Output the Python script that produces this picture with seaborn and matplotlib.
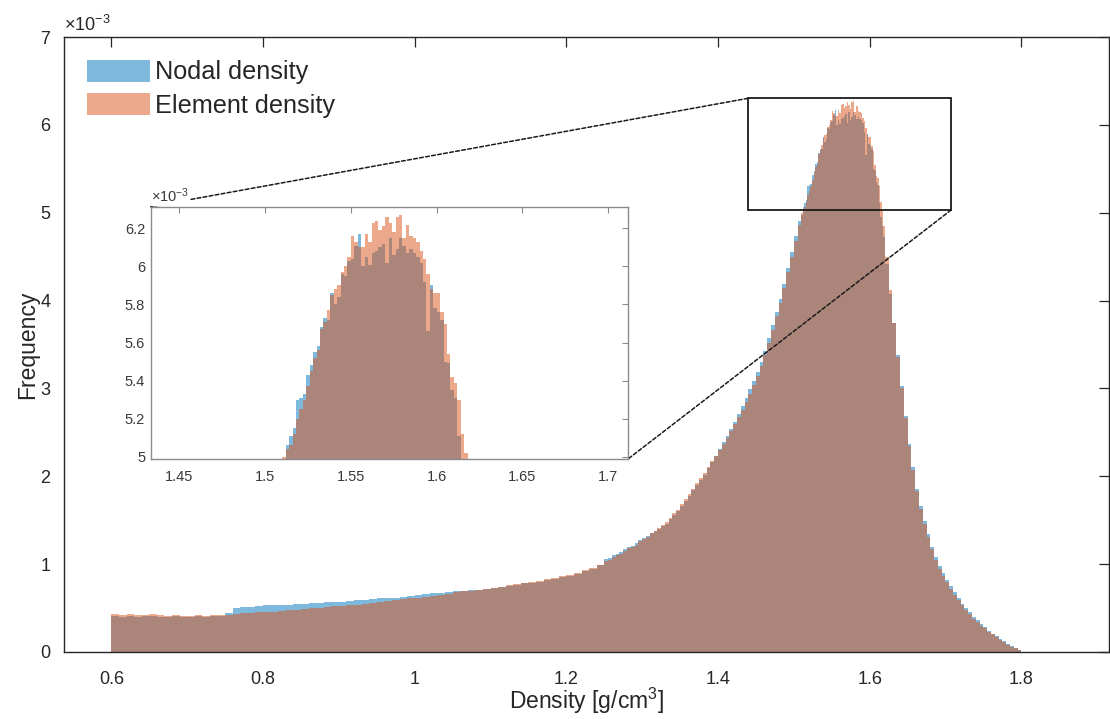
import numpy as np
import pandas as pd
import matplotlib
matplotlib.use("Agg")
import matplotlib.pyplot as plt
import seaborn as sns
from matplotlib.patches import Rectangle, Patch, ConnectionPatch

# ---------------- data (frequency values in units of 1e-3) ----------------
# bin edges: coarse in the flat tail, finer towards the peak
edges_a = np.linspace(0.60, 1.25, 66)   # 65 bins, width 0.01
edges_b = np.linspace(1.25, 1.51, 53)   # 52 bins, width 0.005
edges_c = np.linspace(1.51, 1.62, 56)   # 55 bins, width 0.002
edges_d = np.linspace(1.62, 1.80, 37)   # 36 bins, width 0.005

element_a = [0.43, 0.42, 0.43, 0.42, 0.42, 0.43, 0.42, 0.41, 0.42, 0.41,
             0.41, 0.42, 0.41, 0.42, 0.42, 0.42, 0.43, 0.44, 0.44, 0.45,
             0.46, 0.46, 0.47, 0.48, 0.48, 0.49, 0.50, 0.50, 0.51, 0.52,
             0.52, 0.53, 0.54, 0.55, 0.56, 0.57, 0.58, 0.59, 0.60, 0.61,
             0.62, 0.63, 0.64, 0.65, 0.66, 0.68, 0.69, 0.70, 0.71, 0.72,
             0.73, 0.74, 0.76, 0.77, 0.79, 0.80, 0.81, 0.83, 0.84, 0.86,
             0.88, 0.90, 0.93, 0.96, 0.99]
nodal_a = [0.41, 0.40, 0.41, 0.40, 0.41, 0.41, 0.40, 0.40, 0.41, 0.40,
           0.40, 0.41, 0.40, 0.41, 0.41, 0.44, 0.50, 0.51, 0.51, 0.52,
           0.53, 0.53, 0.54, 0.54, 0.55, 0.55, 0.56, 0.56, 0.57, 0.57,
           0.57, 0.58, 0.59, 0.59, 0.60, 0.61, 0.62, 0.62, 0.63, 0.64,
           0.65, 0.66, 0.67, 0.67, 0.68, 0.69, 0.70, 0.71, 0.71, 0.72,
           0.73, 0.74, 0.75, 0.76, 0.78, 0.79, 0.80, 0.82, 0.83, 0.85,
           0.87, 0.89, 0.92, 0.95, 0.99]

element_b = [1.04, 1.05, 1.08, 1.10, 1.12, 1.15, 1.18, 1.20, 1.22, 1.26,
             1.29, 1.31, 1.35, 1.38, 1.41, 1.45, 1.48, 1.53, 1.58, 1.62,
             1.68, 1.74, 1.80, 1.85, 1.92, 1.98, 2.04, 2.11, 2.17, 2.23,
             2.30, 2.37, 2.44, 2.51, 2.59, 2.67, 2.76, 2.85, 2.94, 3.04,
             3.14, 3.25, 3.38, 3.52, 3.67, 3.82, 3.97, 4.14, 4.32, 4.50,
             4.68, 4.86]
nodal_b = [1.06, 1.07, 1.10, 1.12, 1.14, 1.17, 1.19, 1.21, 1.24, 1.27,
           1.30, 1.32, 1.35, 1.38, 1.40, 1.43, 1.46, 1.51, 1.56, 1.61,
           1.66, 1.72, 1.78, 1.84, 1.90, 1.96, 2.02, 2.09, 2.16, 2.23,
           2.31, 2.39, 2.46, 2.54, 2.62, 2.71, 2.80, 2.89, 2.99, 3.09,
           3.19, 3.30, 3.43, 3.57, 3.72, 3.87, 4.02, 4.19, 4.37, 4.55,
           4.73, 4.91]

element_c = [5.00, 5.04, 5.06, 5.12, 5.20, 5.25, 5.30, 5.37, 5.45, 5.52,
             5.56, 5.67, 5.71, 5.77, 5.85, 5.88, 5.90, 5.97, 6.00, 6.05,
             6.16, 6.13, 6.10, 6.10, 6.17, 6.13, 6.23, 6.24, 6.19, 6.21,
             6.26, 6.23, 6.18, 6.26, 6.27, 6.15, 6.22, 6.16, 6.15, 6.13,
             6.08, 6.04, 5.96, 5.88, 5.86, 5.86, 5.76, 5.70, 5.54, 5.42,
             5.39, 5.30, 5.12, 5.02, 4.85]
nodal_c = [4.97, 5.06, 5.11, 5.15, 5.30, 5.31, 5.33, 5.43, 5.48, 5.55,
           5.58, 5.68, 5.73, 5.72, 5.86, 5.80, 5.84, 5.96, 5.95, 6.03,
           6.04, 6.11, 6.17, 6.00, 6.05, 6.01, 6.07, 6.08, 6.10, 6.12,
           6.02, 6.15, 6.06, 6.09, 6.15, 6.11, 6.07, 6.09, 6.07, 6.05,
           6.02, 5.92, 5.66, 5.90, 5.78, 5.76, 5.72, 5.50, 5.49, 5.35,
           5.31, 5.11, 4.95, 4.85, 4.72]

element_d = [4.50, 4.12, 3.75, 3.36, 3.00, 2.66, 2.34, 2.07, 1.83, 1.63,
             1.46, 1.31, 1.17, 1.05, 0.95, 0.87, 0.80, 0.72, 0.65, 0.59,
             0.53, 0.48, 0.43, 0.38, 0.34, 0.30, 0.27, 0.23, 0.20, 0.17,
             0.14, 0.11, 0.08, 0.06, 0.04, 0.02]
nodal_d = [4.42, 4.08, 3.74, 3.38, 3.03, 2.69, 2.37, 2.10, 1.86, 1.66,
           1.49, 1.34, 1.20, 1.08, 0.98, 0.90, 0.82, 0.75, 0.68, 0.61,
           0.55, 0.50, 0.45, 0.40, 0.36, 0.32, 0.28, 0.24, 0.21, 0.18,
           0.15, 0.12, 0.09, 0.065, 0.04, 0.02]

series_labels = ["Nodal density", "Element density"]
main_xticks = [0.6, 0.8, 1.0, 1.2, 1.4, 1.6, 1.8]
main_xticklabels = ["0.6", "0.8", "1", "1.2", "1.4", "1.6", "1.8"]
main_yticks = [0, 1, 2, 3, 4, 5, 6, 7]
inset_xticks = [1.45, 1.5, 1.55, 1.6, 1.65, 1.7]
inset_xticklabels = ["1.45", "1.5", "1.55", "1.6", "1.65", "1.7"]
inset_yticks = [5.0, 5.2, 5.4, 5.6, 5.8, 6.0, 6.2]
inset_yticklabels = ["5", "5.2", "5.4", "5.6", "5.8", "6", "6.2"]

bin_edges = np.concatenate([edges_a, edges_b[1:], edges_c[1:], edges_d[1:]])
bin_centers = 0.5 * (bin_edges[:-1] + bin_edges[1:])
df_nodal = pd.DataFrame({"density": bin_centers,
                         "freq": nodal_a + nodal_b + nodal_c + nodal_d})
df_element = pd.DataFrame({"density": bin_centers,
                           "freq": element_a + element_b + element_c + element_d})

# ---------------- style ----------------
sns.set_theme(style="white")
plt.rcParams["font.family"] = ["Liberation Sans", "DejaVu Sans"]
plt.rcParams["mathtext.fontset"] = "custom"
plt.rcParams["mathtext.rm"] = "Liberation Sans"
plt.rcParams["mathtext.it"] = "Liberation Sans:italic"
plt.rcParams["mathtext.default"] = "regular"

BLUE = "#0072BD"
ORANGE = "#D95319"
DARK = "#262626"

W, H = 1110, 719
fig = plt.figure(figsize=(W / 100, H / 100), dpi=100)

def px_rect(l, t, r, b):
    return [l / W, (H - b) / H, (r - l) / W, (b - t) / H]

ax = fig.add_axes(px_rect(63.6, 37, 1108.5, 652))
axins = fig.add_axes(px_rect(150.7, 206.7, 628, 459))

edge_list = list(bin_edges)
for a in (ax, axins):
    sns.histplot(data=df_nodal, x="density", weights="freq", bins=edge_list,
                 stat="count", element="step", fill=True, color=BLUE,
                 alpha=0.5, linewidth=0, ax=a)
    sns.histplot(data=df_element, x="density", weights="freq", bins=edge_list,
                 stat="count", element="step", fill=True, color=ORANGE,
                 alpha=0.5, linewidth=0, ax=a)

# main axes
ax.set_xlim(0.537, 1.915)
ax.set_ylim(0, 7)
ax.set_xticks(main_xticks)
ax.set_xticklabels(main_xticklabels)
ax.set_yticks(main_yticks)
ax.set_yticklabels([str(v) for v in main_yticks])
ax.tick_params(direction="in", top=True, right=True, length=7, width=0.9,
               color=DARK, labelcolor=DARK, labelsize=13)
ax.tick_params(axis="x", pad=13.5)
ax.tick_params(axis="y", pad=9.5)
for s in ax.spines.values():
    s.set_color(DARK)
    s.set_linewidth(1.0)
ax.set_xlabel("Density [g/cm$^3$]", fontsize=16.5, color=DARK, va="top")
ax.xaxis.set_label_coords(0.5, -0.0555)
ax.set_ylabel("Frequency", fontsize=16.5, color=DARK)
ax.yaxis.set_label_coords(-0.0235, 0.5)
ax.text(0.0, 1.004, r"$\times$10$^{-3}$", transform=ax.transAxes,
        ha="left", va="bottom", fontsize=13, color=DARK)

handles = [Patch(facecolor=BLUE, alpha=0.5, edgecolor="none"),
           Patch(facecolor=ORANGE, alpha=0.5, edgecolor="none")]
ax.legend(handles, series_labels, loc="upper left",
          bbox_to_anchor=(0.022, 0.963), frameon=False, fontsize=18.2,
          handlelength=2.49, handleheight=0.95, handletextpad=0.2,
          labelspacing=0.36, borderpad=0, borderaxespad=0,
          labelcolor=DARK)

# zoom rectangle
ax.add_patch(Rectangle((1.4396, 5.031), 1.7075 - 1.4396, 6.302 - 5.031,
                       fill=False, edgecolor="#1a1a1a", linewidth=1.3, zorder=5))

# inset axes
GRAY = "#8a8a8a"
axins.set_xlim(1.4333, 1.7115)
axins.set_ylim(4.988, 6.314)
axins.set_xticks(inset_xticks)
axins.set_xticklabels(inset_xticklabels)
axins.set_yticks(inset_yticks)
axins.set_yticklabels(inset_yticklabels)
axins.tick_params(direction="in", top=True, right=True, length=4, width=0.8,
                  color=GRAY, labelcolor="#3a3a3a", labelsize=10.5)
axins.tick_params(axis="x", pad=8)
axins.tick_params(axis="y", pad=4)
for s in axins.spines.values():
    s.set_color(GRAY)
    s.set_linewidth(1.0)
axins.set_xlabel("")
axins.set_ylabel("")
axins.text(0.0, 1.006, r"$\times$10$^{-3}$", transform=axins.transAxes,
           ha="left", va="bottom", fontsize=10.5, color="#3a3a3a",
           bbox=dict(facecolor="white", edgecolor="none", pad=0.5))

# connector lines
for xyA, xyB in [((1.4396, 6.302), (0, 1)), ((1.7075, 5.031), (1, 0))]:
    con = ConnectionPatch(xyA=xyA, coordsA=ax.transData,
                          xyB=xyB, coordsB=axins.transAxes,
                          linestyle=(0, (2.5, 1.5)), color="#1a1a1a",
                          linewidth=1.1, zorder=6)
    ax.add_artist(con)

fig.savefig("out.png", dpi=100)
